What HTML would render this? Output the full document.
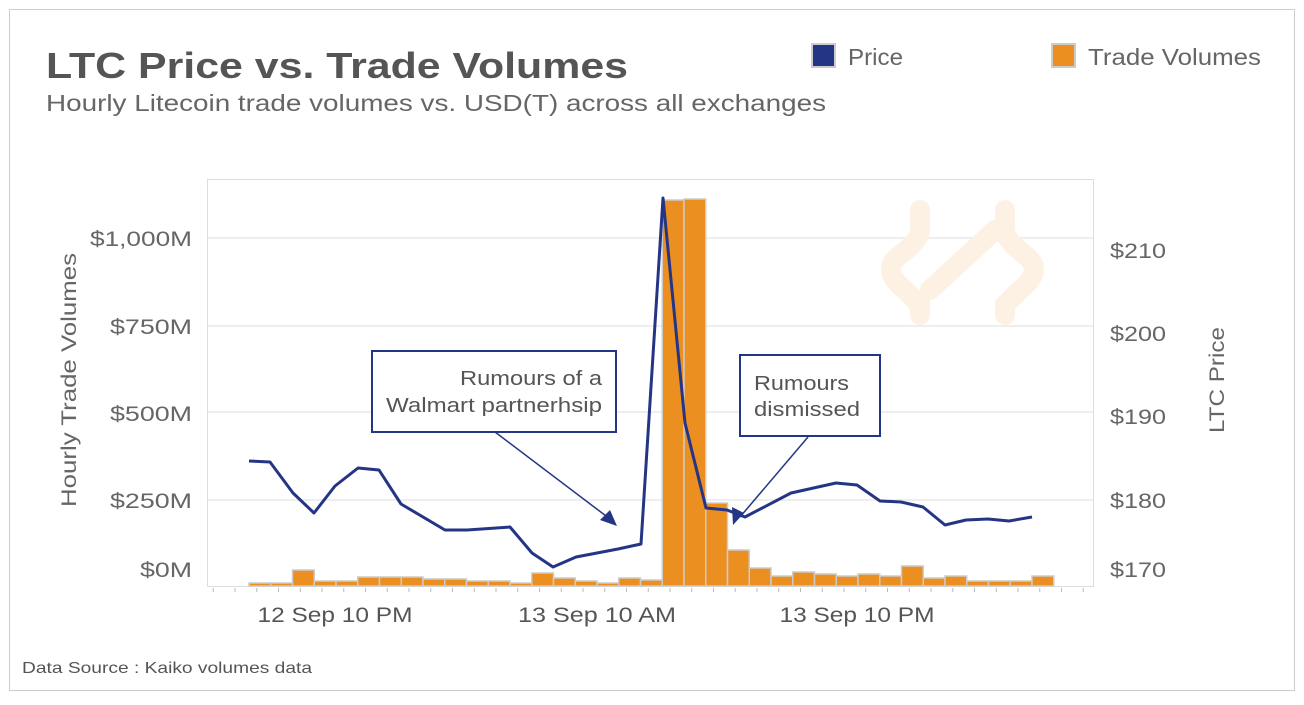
<!DOCTYPE html>
<html><head><meta charset="utf-8"><style>
html,body{margin:0;padding:0;background:#fff;}
body{width:1304px;height:700px;overflow:hidden;font-family:"Liberation Sans",sans-serif;}
</style></head><body>
<svg id="s" width="1304" height="700" xmlns="http://www.w3.org/2000/svg" font-family="Liberation Sans, sans-serif">
<rect x="9.5" y="9.5" width="1285" height="681" fill="#fff" stroke="#ccc"/>
<text x="46" y="78" font-size="36" font-weight="bold" fill="#555" textLength="582" lengthAdjust="spacingAndGlyphs">LTC Price vs. Trade Volumes</text>
<text x="46" y="111" font-size="23" fill="#666" textLength="780" lengthAdjust="spacingAndGlyphs">Hourly Litecoin trade volumes vs. USD(T) across all exchanges</text>
<rect x="812" y="44" width="23" height="23" fill="#253585" stroke="#ccc" stroke-width="2"/>
<text x="848" y="65" font-size="23" fill="#666" textLength="55" lengthAdjust="spacingAndGlyphs">Price</text>
<rect x="1052" y="44" width="23" height="23" fill="#ec8f21" stroke="#ccc" stroke-width="2"/>
<text x="1088" y="65" font-size="23" fill="#666" textLength="173" lengthAdjust="spacingAndGlyphs">Trade Volumes</text>
<rect x="207.5" y="179.5" width="886" height="407" fill="none" stroke="#ddd"/>
<g stroke="#eee" stroke-width="2">
<line x1="208" y1="238" x2="1093" y2="238"/><line x1="208" y1="326" x2="1093" y2="326"/>
<line x1="208" y1="412" x2="1093" y2="412"/><line x1="208" y1="500" x2="1093" y2="500"/>
</g>
<g fill="none" stroke="#fdf1e3" stroke-width="20" stroke-linecap="round">
<path d="M920 210 L920 230 Q920 240 900 255 Q880 270 905 290 L920 305 L920 315"/>
<path d="M1005 210 L1005 230 Q1005 240 1025 255 Q1045 270 1020 290 L1005 305 L1005 315"/>
<path d="M930 290 L995 230"/>
</g>
<g id="bars"></g>
<rect x="372" y="351" width="244" height="81" fill="#fff" stroke="#253585" stroke-width="2"/>
<text x="602" y="385" font-size="20" fill="#555" text-anchor="end" textLength="142" lengthAdjust="spacingAndGlyphs">Rumours of a</text>
<text x="602" y="412" font-size="20" fill="#555" text-anchor="end" textLength="216" lengthAdjust="spacingAndGlyphs">Walmart partnerhsip</text>
<rect x="740" y="355" width="140" height="81" fill="#fff" stroke="#253585" stroke-width="2"/>
<text x="754" y="390" font-size="20" fill="#555" textLength="95" lengthAdjust="spacingAndGlyphs">Rumours</text>
<text x="754" y="416" font-size="20" fill="#555" textLength="106" lengthAdjust="spacingAndGlyphs">dismissed</text>
<polyline fill="none" stroke="#253585" stroke-width="3" stroke-linejoin="round" points="249,461 270,462 293,493 314,513 335,486 358,468 379,470 401,504 445,530 467,530 510,527 532,553 553,567 576,557 597,553 618,549 641,544 663,198 685,423 706,508 727,510 745,517 791,493 836,483 857,485 880,501 901,502 923,507 945,525 966,520 988,519 1009,521 1032,517"/>
<g stroke="#253585" stroke-width="1.5"><line x1="495" y1="432" x2="610" y2="519"/><line x1="808" y1="437" x2="740" y2="517"/></g>
<polygon points="617,526 600,520 610,510" fill="#253585"/>
<polygon points="733,525 732,507 744,513" fill="#253585"/>
<g font-size="21" fill="#666" text-anchor="end">
<text x="192" y="246" textLength="102" lengthAdjust="spacingAndGlyphs">$1,000M</text><text x="192" y="334" textLength="82" lengthAdjust="spacingAndGlyphs">$750M</text><text x="192" y="421" textLength="82" lengthAdjust="spacingAndGlyphs">$500M</text><text x="192" y="508" textLength="82" lengthAdjust="spacingAndGlyphs">$250M</text><text x="192" y="577" textLength="52" lengthAdjust="spacingAndGlyphs">$0M</text>
</g>
<g font-size="21" fill="#666">
<text x="1110" y="258" textLength="56" lengthAdjust="spacingAndGlyphs">$210</text><text x="1110" y="341" textLength="56" lengthAdjust="spacingAndGlyphs">$200</text><text x="1110" y="424" textLength="56" lengthAdjust="spacingAndGlyphs">$190</text><text x="1110" y="508" textLength="56" lengthAdjust="spacingAndGlyphs">$180</text><text x="1110" y="577" textLength="56" lengthAdjust="spacingAndGlyphs">$170</text>
</g>
<text transform="translate(76,380) rotate(-90)" font-size="21" fill="#666" text-anchor="middle" textLength="254" lengthAdjust="spacingAndGlyphs">Hourly Trade Volumes</text>
<text transform="translate(1224,380) rotate(-90)" font-size="21" fill="#666" text-anchor="middle" textLength="106" lengthAdjust="spacingAndGlyphs">LTC Price</text>
<g id="ticks" stroke="#bbb"></g>
<g font-size="21" fill="#555" text-anchor="middle">
<text x="335" y="622" textLength="155" lengthAdjust="spacingAndGlyphs">12 Sep 10 PM</text><text x="597" y="622" textLength="158" lengthAdjust="spacingAndGlyphs">13 Sep 10 AM</text><text x="857" y="622" textLength="155" lengthAdjust="spacingAndGlyphs">13 Sep 10 PM</text>
</g>
<text x="22" y="673" font-size="16" fill="#555" textLength="290" lengthAdjust="spacingAndGlyphs">Data Source : Kaiko volumes data</text>
</svg>
<script>
var h=[3,3,16,5,5,9,9,9,7,7,5,5,3,13,8,5,3,8,6,386,387,83,36,18,10,14,12,10,12,10,20,8,10,5,5,5,10];
var g=document.getElementById('bars'),ns='http://www.w3.org/2000/svg',w=21.75;
h.forEach(function(v,i){var r=document.createElementNS(ns,'rect');r.setAttribute('x',249+i*w);r.setAttribute('y',586-v);r.setAttribute('width',w);r.setAttribute('height',v);r.setAttribute('fill','#ec8f21');r.setAttribute('stroke','#ccc');r.setAttribute('stroke-width','1.5');g.appendChild(r);});
var t=document.getElementById('ticks');
for(var k=-5;k<40;k++){var x=235+k*21.75;if(x<208||x>1093)continue;var major=[335,465,597,727,857,989].some(function(m){return Math.abs(m-x)<4});var l=document.createElementNS(ns,'line');l.setAttribute('x1',x);l.setAttribute('x2',x);l.setAttribute('y1',588);l.setAttribute('y2',major?604:592);t.appendChild(l);}
</script>
</body></html>
